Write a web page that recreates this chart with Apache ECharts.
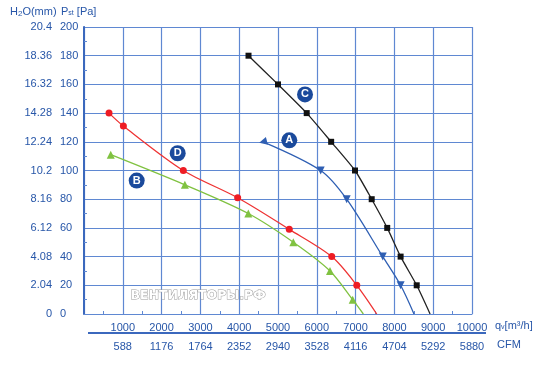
<!DOCTYPE html>
<html><head><meta charset="utf-8">
<script src="https://cdn.jsdelivr.net/npm/echarts@6/dist/echarts.min.js"></script>
<style>html,body{margin:0;padding:0;background:#fff}#c{width:547px;height:365px}</style>
</head><body><div id="c"></div>
<script>
// Tick labels
const flowLabels = ['', '1000','2000','3000','4000','5000','6000','7000','8000','9000','10000'];
const cfmLabels  = ['', '588','1176','1764','2352','2940','3528','4116','4704','5292','5880'];
const paLabels   = ['0','20','40','60','80','100','120','140','160','180','200'];
const h2oLabels  = ['0','2.04','4.08','6.12','8.16','10.2','12.24','14.28','16.32','18.36','20.4'];

// Curves [flow m3/h, pressure Pa]
const curveA = [[4615,120],[6100,100],[6770,80],[7700,40],[8160,20],[8505,0]];
const curveB = [[690,111],[2600,90],[4235,70],[5395,50],[6340,30],[6925,10],[7200,0]];
const curveC = [[4240,180],[5000,160],[5740,140],[6370,120],[6985,100],[7415,80],[7815,60],[8160,40],[8575,20],[8920,0]];
const curveD = [[645,140],[1015,131],[2560,100],[3960,81],[5290,59],[6385,40],[7030,20],[7545,0]];

// Curve badge positions
const badgeNames = ['A','B','C','D'];
const badgePos   = [[5291,121],[1358,93],[5696,153],[2415,112]];

const TXT = '#2756a8';
const GRID = '#5f88d2';
const FONT = 'Liberation Sans, Arial, sans-serif';

function pts(arr, firstRot) {
  return arr.map((p, i) => {
    const o = {value: p};
    if (i === arr.length - 1) o.symbol = 'none';
    if (i === 0 && firstRot !== undefined) o.symbolRotate = firstRot;
    return o;
  });
}

const chart = echarts.init(document.getElementById('c'), null, {renderer: 'canvas'});
chart.setOption({
  animation: false,
  grid: {left: 84, right: 75, top: 27, bottom: 51},
  xAxis: [
    {type: 'value', min: 0, max: 10000, interval: 1000, position: 'bottom',
     axisLine: {show: true, lineStyle: {color: GRID, width: 1}},
     axisTick: {show: true, inside: true, length: 0},
     minorTick: {show: true, splitNumber: 2, length: 3, lineStyle: {color: GRID}},
     splitLine: {show: true, lineStyle: {color: GRID, width: 1.2}},
     axisLabel: {margin: 8, color: TXT, fontFamily: FONT, fontSize: 11,
       formatter: v => flowLabels[Math.round(v / 1000)]}},
    {type: 'value', min: 0, max: 10000, interval: 1000, position: 'bottom', offset: 19,
     axisLine: {show: false}, axisTick: {show: false}, splitLine: {show: false},
     axisLabel: {margin: 8, color: TXT, fontFamily: FONT, fontSize: 11,
       formatter: v => cfmLabels[Math.round(v / 1000)]}}
  ],
  yAxis: [
    {type: 'value', min: 0, max: 200, interval: 20, position: 'left',
     axisLine: {show: true, lineStyle: {color: GRID, width: 1}},
     axisTick: {show: true, inside: true, length: 0},
     minorTick: {show: true, splitNumber: 2, length: 3, lineStyle: {color: GRID}},
     splitLine: {show: true, lineStyle: {color: GRID, width: 1.2}},
     axisLabel: {margin: 24, align: 'left', color: TXT, fontFamily: FONT, fontSize: 11,
       formatter: v => paLabels[Math.round(v / 20)]}},
    {type: 'value', min: 0, max: 200, interval: 20, position: 'left', offset: 28,
     axisLine: {show: true, lineStyle: {color: '#3b68bd', width: 2}},
     axisTick: {show: false}, splitLine: {show: false},
     axisLabel: {margin: 4, color: TXT, fontFamily: FONT, fontSize: 11,
       formatter: v => h2oLabels[Math.round(v / 20)]}}
  ],
  graphic: [
    {type: 'line', shape: {x1: 88, y1: 333, x2: 486, y2: 333}, style: {stroke: '#3b68bd', lineWidth: 2}},
    {type: 'text', left: 10, top: 6, style: {
      text: '{n|H}{s|2}{n|O(mm)}', rich: {n: {fontSize: 11, fontFamily: FONT, fill: TXT}, s: {fontSize: 8, fontFamily: FONT, fill: TXT, padding: [4,0,0,0]}}}},
    {type: 'text', left: 61, top: 6, style: {
      text: '{n|P}{s|st}{n| [Pa]}', rich: {n: {fontSize: 11, fontFamily: FONT, fill: TXT}, s: {fontSize: 7, fontFamily: FONT, fill: TXT, padding: [4,0,0,0]}}}},
    {type: 'text', left: 495, top: 320, style: {
      text: '{n|q}{s|v}{n|[m³/h]}', rich: {n: {fontSize: 11, fontFamily: FONT, fill: TXT}, s: {fontSize: 7, fontFamily: FONT, fill: TXT, padding: [4,0,0,0]}}}},
    {type: 'text', left: 497, top: 339, style: {text: 'CFM', fontSize: 11, fontFamily: FONT, fill: TXT}},
    {type: 'text', left: 130, top: 289, z: 1, style: {text: 'ВЕНТИЛЯТОРЫ.РФ', fontSize: 12.5, fontWeight: 'bold',
      fontFamily: 'DejaVu Sans, sans-serif', fill: '#ffffff', stroke: '#9a9a9a', lineWidth: 1}}
  ],
  series: [
    {name: 'A', type: 'line', smooth: 0.3, data: pts(curveA, 105),
     symbol: 'triangle', symbolRotate: 180, symbolSize: 8, z: 3,
     lineStyle: {color: '#2f5fb3', width: 1.3}, itemStyle: {color: '#2f5fb3'}},
    {name: 'B', type: 'line', smooth: 0.3, data: pts(curveB),
     symbol: 'triangle', symbolSize: 8, z: 3,
     lineStyle: {color: '#80c241', width: 1.3}, itemStyle: {color: '#80c241'}},
    {name: 'C', type: 'line', smooth: 0.2, data: pts(curveC),
     symbol: 'rect', symbolSize: 6, z: 3,
     lineStyle: {color: '#222222', width: 1.3}, itemStyle: {color: '#111111'}},
    {name: 'D', type: 'line', smooth: 0.3, data: pts(curveD),
     symbol: 'circle', symbolSize: 7, z: 3,
     lineStyle: {color: '#ee3333', width: 1.3}, itemStyle: {color: '#ee1c24'}},
    {name: 'badges', type: 'scatter', z: 5,
     data: badgePos.map((p, i) => ({value: p, name: badgeNames[i]})),
     symbol: 'circle', symbolSize: 16, itemStyle: {color: '#1b4a9c', opacity: 1},
     label: {show: true, position: 'inside', formatter: p => p.name, color: '#fff',
       fontFamily: FONT, fontWeight: 'bold', fontSize: 11}}
  ]
});
</script></body></html>
